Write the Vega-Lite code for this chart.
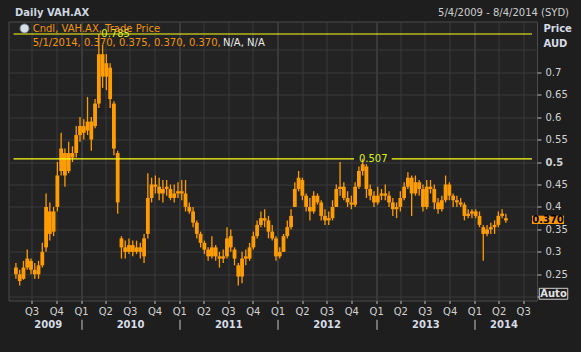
{
"$schema": "https://vega.github.io/schema/vega-lite/v6.json",
"width": 528.5, "height": 279,
"autosize": {"type": "none"},
"padding": {"left": 8.5, "top": 21.5, "right": 44, "bottom": 51.5},
"background": "#1e1e1e",
"config": {"view": {"fill": "#232323", "stroke": "#4a4a4a", "strokeWidth": 1}, "font": "DejaVu Sans"},
"datasets": {
"px": [
{"d":"2009-05-04","o":0.265,"h":0.275,"l":0.24,"c":0.25},
{"d":"2009-05-18","o":0.25,"h":0.26,"l":0.225,"c":0.235},
{"d":"2009-06-01","o":0.24,"h":0.28,"l":0.238,"c":0.265},
{"d":"2009-06-15","o":0.265,"h":0.305,"l":0.26,"c":0.285},
{"d":"2009-06-29","o":0.28,"h":0.285,"l":0.25,"c":0.26},
{"d":"2009-07-13","o":0.26,"h":0.275,"l":0.24,"c":0.25},
{"d":"2009-07-27","o":0.25,"h":0.28,"l":0.24,"c":0.27},
{"d":"2009-08-10","o":0.27,"h":0.32,"l":0.265,"c":0.30},
{"d":"2009-08-24","o":0.31,"h":0.43,"l":0.30,"c":0.40},
{"d":"2009-09-07","o":0.39,"h":0.41,"l":0.325,"c":0.34},
{"d":"2009-09-21","o":0.345,"h":0.40,"l":0.335,"c":0.39},
{"d":"2009-10-05","o":0.40,"h":0.50,"l":0.39,"c":0.47},
{"d":"2009-10-19","o":0.48,"h":0.565,"l":0.47,"c":0.53},
{"d":"2009-11-02","o":0.52,"h":0.53,"l":0.445,"c":0.47},
{"d":"2009-11-16","o":0.48,"h":0.545,"l":0.475,"c":0.52},
{"d":"2009-11-30","o":0.51,"h":0.535,"l":0.50,"c":0.52},
{"d":"2009-12-14","o":0.52,"h":0.58,"l":0.51,"c":0.56},
{"d":"2009-12-28","o":0.56,"h":0.60,"l":0.545,"c":0.58},
{"d":"2010-01-11","o":0.58,"h":0.595,"l":0.55,"c":0.565},
{"d":"2010-01-25","o":0.57,"h":0.645,"l":0.56,"c":0.59},
{"d":"2010-02-08","o":0.59,"h":0.60,"l":0.525,"c":0.55},
{"d":"2010-02-22","o":0.58,"h":0.64,"l":0.575,"c":0.63},
{"d":"2010-03-08","o":0.63,"h":0.785,"l":0.62,"c":0.74},
{"d":"2010-03-22","o":0.74,"h":0.76,"l":0.665,"c":0.69},
{"d":"2010-04-05","o":0.69,"h":0.74,"l":0.66,"c":0.72},
{"d":"2010-04-19","o":0.71,"h":0.72,"l":0.62,"c":0.64},
{"d":"2010-05-03","o":0.63,"h":0.635,"l":0.515,"c":0.53},
{"d":"2010-05-17","o":0.52,"h":0.525,"l":0.385,"c":0.41},
{"d":"2010-05-31","o":0.33,"h":0.335,"l":0.285,"c":0.31},
{"d":"2010-06-14","o":0.31,"h":0.325,"l":0.285,"c":0.30},
{"d":"2010-06-28","o":0.30,"h":0.33,"l":0.295,"c":0.315},
{"d":"2010-07-12","o":0.315,"h":0.325,"l":0.29,"c":0.30},
{"d":"2010-07-26","o":0.30,"h":0.325,"l":0.295,"c":0.31},
{"d":"2010-08-09","o":0.31,"h":0.32,"l":0.285,"c":0.30},
{"d":"2010-08-23","o":0.29,"h":0.34,"l":0.275,"c":0.33},
{"d":"2010-09-06","o":0.34,"h":0.475,"l":0.33,"c":0.42},
{"d":"2010-09-20","o":0.42,"h":0.465,"l":0.41,"c":0.45},
{"d":"2010-10-04","o":0.45,"h":0.47,"l":0.43,"c":0.445},
{"d":"2010-10-18","o":0.445,"h":0.465,"l":0.415,"c":0.43},
{"d":"2010-11-01","o":0.43,"h":0.46,"l":0.41,"c":0.44},
{"d":"2010-11-15","o":0.44,"h":0.46,"l":0.425,"c":0.445},
{"d":"2010-11-29","o":0.44,"h":0.45,"l":0.415,"c":0.42},
{"d":"2010-12-13","o":0.42,"h":0.45,"l":0.41,"c":0.43},
{"d":"2010-12-27","o":0.43,"h":0.455,"l":0.42,"c":0.435},
{"d":"2011-01-10","o":0.435,"h":0.46,"l":0.415,"c":0.43},
{"d":"2011-01-24","o":0.43,"h":0.46,"l":0.39,"c":0.40},
{"d":"2011-02-07","o":0.40,"h":0.41,"l":0.385,"c":0.39},
{"d":"2011-02-21","o":0.39,"h":0.40,"l":0.355,"c":0.365},
{"d":"2011-03-07","o":0.365,"h":0.37,"l":0.33,"c":0.34},
{"d":"2011-03-21","o":0.34,"h":0.345,"l":0.31,"c":0.32},
{"d":"2011-04-04","o":0.32,"h":0.325,"l":0.295,"c":0.305},
{"d":"2011-04-18","o":0.305,"h":0.31,"l":0.28,"c":0.29},
{"d":"2011-05-02","o":0.29,"h":0.335,"l":0.285,"c":0.31},
{"d":"2011-05-16","o":0.31,"h":0.315,"l":0.28,"c":0.29},
{"d":"2011-05-30","o":0.29,"h":0.30,"l":0.265,"c":0.285},
{"d":"2011-06-13","o":0.285,"h":0.305,"l":0.275,"c":0.29},
{"d":"2011-06-27","o":0.29,"h":0.355,"l":0.285,"c":0.33},
{"d":"2011-07-11","o":0.335,"h":0.35,"l":0.30,"c":0.31},
{"d":"2011-07-25","o":0.305,"h":0.31,"l":0.27,"c":0.285},
{"d":"2011-08-08","o":0.27,"h":0.275,"l":0.225,"c":0.245},
{"d":"2011-08-22","o":0.245,"h":0.30,"l":0.23,"c":0.285},
{"d":"2011-09-05","o":0.29,"h":0.305,"l":0.27,"c":0.285},
{"d":"2011-09-19","o":0.285,"h":0.32,"l":0.28,"c":0.31},
{"d":"2011-10-03","o":0.31,"h":0.345,"l":0.305,"c":0.335},
{"d":"2011-10-17","o":0.335,"h":0.37,"l":0.33,"c":0.36},
{"d":"2011-10-31","o":0.36,"h":0.39,"l":0.355,"c":0.375},
{"d":"2011-11-14","o":0.375,"h":0.395,"l":0.355,"c":0.37},
{"d":"2011-11-28","o":0.37,"h":0.38,"l":0.33,"c":0.345},
{"d":"2011-12-12","o":0.345,"h":0.36,"l":0.325,"c":0.33},
{"d":"2011-12-26","o":0.33,"h":0.335,"l":0.28,"c":0.29},
{"d":"2012-01-09","o":0.29,"h":0.31,"l":0.285,"c":0.30},
{"d":"2012-01-23","o":0.30,"h":0.34,"l":0.30,"c":0.335},
{"d":"2012-02-06","o":0.335,"h":0.37,"l":0.33,"c":0.355},
{"d":"2012-02-20","o":0.355,"h":0.395,"l":0.35,"c":0.38},
{"d":"2012-03-05","o":0.40,"h":0.455,"l":0.40,"c":0.44},
{"d":"2012-03-19","o":0.44,"h":0.48,"l":0.435,"c":0.465},
{"d":"2012-04-02","o":0.46,"h":0.465,"l":0.415,"c":0.425},
{"d":"2012-04-16","o":0.425,"h":0.43,"l":0.39,"c":0.40},
{"d":"2012-04-30","o":0.40,"h":0.42,"l":0.37,"c":0.39},
{"d":"2012-05-14","o":0.39,"h":0.435,"l":0.385,"c":0.425},
{"d":"2012-05-28","o":0.425,"h":0.43,"l":0.405,"c":0.41},
{"d":"2012-06-11","o":0.41,"h":0.415,"l":0.37,"c":0.38},
{"d":"2012-06-25","o":0.38,"h":0.395,"l":0.36,"c":0.37},
{"d":"2012-07-09","o":0.37,"h":0.39,"l":0.36,"c":0.375},
{"d":"2012-07-23","o":0.375,"h":0.415,"l":0.37,"c":0.40},
{"d":"2012-08-06","o":0.40,"h":0.45,"l":0.40,"c":0.44},
{"d":"2012-08-20","o":0.44,"h":0.50,"l":0.425,"c":0.445},
{"d":"2012-09-03","o":0.445,"h":0.455,"l":0.415,"c":0.42},
{"d":"2012-09-17","o":0.42,"h":0.435,"l":0.40,"c":0.41},
{"d":"2012-10-01","o":0.41,"h":0.425,"l":0.395,"c":0.405},
{"d":"2012-10-15","o":0.405,"h":0.455,"l":0.40,"c":0.445},
{"d":"2012-10-29","o":0.445,"h":0.49,"l":0.44,"c":0.48},
{"d":"2012-11-12","o":0.48,"h":0.507,"l":0.47,"c":0.495},
{"d":"2012-11-26","o":0.49,"h":0.495,"l":0.42,"c":0.44},
{"d":"2012-12-10","o":0.44,"h":0.45,"l":0.415,"c":0.425},
{"d":"2012-12-24","o":0.425,"h":0.435,"l":0.40,"c":0.41},
{"d":"2013-01-07","o":0.41,"h":0.445,"l":0.405,"c":0.425},
{"d":"2013-01-21","o":0.425,"h":0.44,"l":0.415,"c":0.43},
{"d":"2013-02-04","o":0.43,"h":0.45,"l":0.415,"c":0.425},
{"d":"2013-02-18","o":0.425,"h":0.435,"l":0.40,"c":0.41},
{"d":"2013-03-04","o":0.41,"h":0.42,"l":0.38,"c":0.395},
{"d":"2013-03-18","o":0.395,"h":0.41,"l":0.375,"c":0.40},
{"d":"2013-04-01","o":0.40,"h":0.435,"l":0.39,"c":0.42},
{"d":"2013-04-15","o":0.42,"h":0.455,"l":0.415,"c":0.445},
{"d":"2013-04-29","o":0.445,"h":0.477,"l":0.44,"c":0.465},
{"d":"2013-05-13","o":0.465,"h":0.47,"l":0.38,"c":0.43},
{"d":"2013-05-27","o":0.43,"h":0.47,"l":0.425,"c":0.455},
{"d":"2013-06-10","o":0.455,"h":0.46,"l":0.425,"c":0.44},
{"d":"2013-06-24","o":0.44,"h":0.45,"l":0.39,"c":0.40},
{"d":"2013-07-08","o":0.40,"h":0.46,"l":0.395,"c":0.445},
{"d":"2013-07-22","o":0.445,"h":0.46,"l":0.43,"c":0.44},
{"d":"2013-08-05","o":0.44,"h":0.45,"l":0.395,"c":0.41},
{"d":"2013-08-19","o":0.41,"h":0.42,"l":0.385,"c":0.395},
{"d":"2013-09-02","o":0.395,"h":0.425,"l":0.39,"c":0.415},
{"d":"2013-09-16","o":0.415,"h":0.47,"l":0.41,"c":0.45},
{"d":"2013-09-30","o":0.45,"h":0.455,"l":0.415,"c":0.425},
{"d":"2013-10-14","o":0.425,"h":0.43,"l":0.40,"c":0.415},
{"d":"2013-10-28","o":0.415,"h":0.425,"l":0.40,"c":0.41},
{"d":"2013-11-11","o":0.41,"h":0.42,"l":0.40,"c":0.405},
{"d":"2013-11-25","o":0.405,"h":0.41,"l":0.37,"c":0.38},
{"d":"2013-12-09","o":0.38,"h":0.395,"l":0.375,"c":0.385},
{"d":"2013-12-23","o":0.385,"h":0.395,"l":0.375,"c":0.39},
{"d":"2014-01-06","o":0.39,"h":0.395,"l":0.375,"c":0.38},
{"d":"2014-01-20","o":0.38,"h":0.39,"l":0.355,"c":0.36},
{"d":"2014-02-03","o":0.355,"h":0.36,"l":0.28,"c":0.34},
{"d":"2014-02-17","o":0.34,"h":0.36,"l":0.335,"c":0.35},
{"d":"2014-03-03","o":0.35,"h":0.365,"l":0.34,"c":0.355},
{"d":"2014-03-17","o":0.355,"h":0.37,"l":0.34,"c":0.36},
{"d":"2014-03-31","o":0.36,"h":0.39,"l":0.355,"c":0.38},
{"d":"2014-04-14","o":0.38,"h":0.395,"l":0.375,"c":0.385},
{"d":"2014-04-28","o":0.375,"h":0.385,"l":0.365,"c":0.37}
]
},
"layer": [
{
"data": {"name": "px"},
"mark": {"type": "rule", "color": "#ff9c00", "strokeWidth": 1.3},
"encoding": {
"x": {"field": "d", "type": "temporal",
"scale": {"domain": [{"year":2009,"month":4,"date":25},{"year":2014,"month":8,"date":3}], "nice": false},
"axis": {"orient": "bottom", "values": [{"year":2009,"month":7,"date":1},{"year":2009,"month":10,"date":1},{"year":2010,"month":1,"date":1},{"year":2010,"month":4,"date":1},{"year":2010,"month":7,"date":1},{"year":2010,"month":10,"date":1},{"year":2011,"month":1,"date":1},{"year":2011,"month":4,"date":1},{"year":2011,"month":7,"date":1},{"year":2011,"month":10,"date":1},{"year":2012,"month":1,"date":1},{"year":2012,"month":4,"date":1},{"year":2012,"month":7,"date":1},{"year":2012,"month":10,"date":1},{"year":2013,"month":1,"date":1},{"year":2013,"month":4,"date":1},{"year":2013,"month":7,"date":1},{"year":2013,"month":10,"date":1},{"year":2014,"month":1,"date":1},{"year":2014,"month":4,"date":1},{"year":2014,"month":7,"date":1}],
"labelExpr": "'Q' + quarter(datum.value)", "title": null, "grid": true, "gridColor": "#3a3a3a",
"gridWidth": {"condition": {"test": "month(datum.value) == 0", "value": 2}, "value": 1},
"domain": false, "ticks": true, "tickSize": 3, "tickColor": "#bdbdbd", "labelPadding": 3,
"labelColor": "#d2d2d2", "labelFontSize": 10, "labelFont": "DejaVu Sans", "labelAngle": 0,
"labelFlush": false, "labelOverlap": false, "labelBound": false}},
"y": {"field": "l", "type": "quantitative",
"scale": {"domain": [0.1917, 0.8128], "zero": false, "nice": false},
"axis": {"orient": "right", "values": [0.2,0.25,0.3,0.35,0.4,0.45,0.5,0.55,0.6,0.65,0.7,0.75], "format": ".2~f",
"labelExpr": "datum.value > 0.72 || datum.value < 0.22 ? '' : datum.label",
"grid": true, "gridColor": "#3a3a3a", "domain": false, "tickSize": 4, "tickColor": "#c0c0c0",
"tickOpacity": {"condition": {"test": "datum.value > 0.72", "value": 0}, "value": 1},
"labelPadding": 4, "labelColor": "#d2d2d2", "labelFontSize": 10, "labelFont": "DejaVu Sans",
"labelFontWeight": {"condition": {"test": "datum.value == 0.5", "value": "bold"}, "value": "normal"},
"labelBound": false, "labelOverlap": false,
"title": ["Price", "AUD"], "titleAngle": 0, "titleAlign": "left", "titleBaseline": "middle",
"titleX": 6, "titleY": 7, "titleFontSize": 10, "titleFontWeight": "bold", "titleColor": "#d6dce6",
"titleFont": "DejaVu Sans", "titleLineHeight": 14.5}},
"y2": {"field": "h"}
}
},
{
"data": {"name": "px"},
"mark": {"type": "bar", "color": "#ff9c00", "width": 3.8},
"encoding": {
"x": {"field": "d", "type": "temporal",
"scale": {"domain": [{"year":2009,"month":4,"date":25},{"year":2014,"month":8,"date":3}], "nice": false},
"axis": {"orient": "bottom", "values": [{"year":2009,"month":8,"date":30},{"year":2010,"month":7,"date":2},{"year":2011,"month":7,"date":2},{"year":2012,"month":7,"date":1},{"year":2013,"month":7,"date":3},{"year":2014,"month":4,"date":19}],
"format": "%Y", "title": null, "grid": false, "domain": false, "ticks": false, "tickSize": 0, "offset": 19,
"labelPadding": 0, "labelFontWeight": "bold", "labelColor": "#d6dce6", "labelFontSize": 10, "labelFont": "DejaVu Sans",
"labelFlush": false, "labelOverlap": false, "labelBound": false}},
"y": {"field": "o", "type": "quantitative", "scale": {"domain": [0.1917, 0.8128], "zero": false, "nice": false}, "axis": null},
"y2": {"field": "c"}
}
},
{
"data": {"values": [{"level":0.785,"from":"2009-04-25","to":"2014-08-03"},{"level":0.507,"from":"2009-04-25","to":"2012-10-11"},{"level":0.507,"from":"2013-02-28","to":"2014-08-03"}]},
"mark": {"type": "rule", "color": "#ffff1a", "strokeWidth": 1.2},
"encoding": {
"x": {"field": "from", "type": "temporal", "scale": {"domain": [{"year":2009,"month":4,"date":25},{"year":2014,"month":8,"date":3}], "nice": false}, "axis": null},
"x2": {"field": "to"},
"y": {"field": "level", "type": "quantitative", "scale": {"domain": [0.1917, 0.8128], "zero": false, "nice": false}, "axis": null}
}
},
{
"data": {"values": [{"level":0.785,"d":"2010-03-17"},{"level":0.507,"d":"2012-10-29"}]},
"mark": {"type": "text", "align": "left", "baseline": "middle", "color": "#d8f020", "fontSize": 10, "font": "DejaVu Sans"},
"encoding": {
"x": {"field": "d", "type": "temporal", "scale": {"domain": [{"year":2009,"month":4,"date":25},{"year":2014,"month":8,"date":3}], "nice": false}, "axis": null},
"y": {"field": "level", "type": "quantitative", "scale": {"domain": [0.1917, 0.8128], "zero": false, "nice": false}, "axis": null},
"text": {"field": "level", "type": "quantitative", "format": ".3f"}
}
},
{
"data": {"values": [{"d":"2014-08-03","lo":0.362,"hi":0.3805}]},
"mark": {"type": "bar", "color": "#ff9900", "width": 32, "xOffset": 16, "clip": false},
"encoding": {
"x": {"field": "d", "type": "temporal", "scale": {"domain": [{"year":2009,"month":4,"date":25},{"year":2014,"month":8,"date":3}], "nice": false},
"axis": {"orient": "bottom", "values": [{"year":2010,"month":1,"date":1},{"year":2011,"month":1,"date":1},{"year":2012,"month":1,"date":1},{"year":2013,"month":1,"date":1},{"year":2014,"month":1,"date":1}],
"labels": false, "domain": false, "grid": false, "ticks": true, "tickSize": 10, "tickColor": "#c8c8c8", "offset": 18.8, "title": null}},
"y": {"field": "lo", "type": "quantitative", "scale": {"domain": [0.1917, 0.8128], "zero": false, "nice": false}, "axis": null},
"y2": {"field": "hi"}
}
},
{
"data": {"values": [{"d":"2014-08-03","p":0.37}]},
"mark": {"type": "text", "align": "center", "baseline": "middle", "dx": 16, "color": "#000000", "fontWeight": "bold", "fontSize": 10, "font": "DejaVu Sans", "clip": false},
"encoding": {
"x": {"field": "d", "type": "temporal", "scale": {"domain": [{"year":2009,"month":4,"date":25},{"year":2014,"month":8,"date":3}], "nice": false}, "axis": null},
"y": {"field": "p", "type": "quantitative", "scale": {"domain": [0.1917, 0.8128], "zero": false, "nice": false}, "axis": null},
"text": {"field": "p", "type": "quantitative", "format": ".3f"}
}
},
{
"data": {"values": [{"d":"2014-08-03","lo":0.1945,"hi":0.2188}]},
"mark": {"type": "bar", "width": 28.5, "xOffset": 21.5, "fill": "#1e1e1e", "stroke": "#cfcfcf", "strokeWidth": 1, "clip": false},
"encoding": {
"x": {"field": "d", "type": "temporal", "scale": {"domain": [{"year":2009,"month":4,"date":25},{"year":2014,"month":8,"date":3}], "nice": false}, "axis": null},
"y": {"field": "lo", "type": "quantitative", "scale": {"domain": [0.1917, 0.8128], "zero": false, "nice": false}, "axis": null},
"y2": {"field": "hi"}
}
},
{
"data": {"values": [{"d":"2014-08-03","p":0.2066,"t":"Auto"}]},
"mark": {"type": "text", "align": "center", "baseline": "middle", "dx": 21.5, "color": "#e2e2e2", "fontWeight": "bold", "fontSize": 10, "font": "DejaVu Sans", "clip": false},
"encoding": {
"x": {"field": "d", "type": "temporal", "scale": {"domain": [{"year":2009,"month":4,"date":25},{"year":2014,"month":8,"date":3}], "nice": false}, "axis": null},
"y": {"field": "p", "type": "quantitative", "scale": {"domain": [0.1917, 0.8128], "zero": false, "nice": false}, "axis": null},
"text": {"field": "t", "type": "nominal"}
}
},
{
"data": {"values": [{"d":"2009-04-25","p":0.8128,"t":"Cndl, VAH.AX, Trade Price"}]},
"mark": {"type": "text", "align": "left", "baseline": "middle", "dx": 19.2, "dy": 7.8, "color": "#f29410", "fontSize": 10, "font": "DejaVu Sans"},
"encoding": {
"x": {"field": "d", "type": "temporal", "scale": {"domain": [{"year":2009,"month":4,"date":25},{"year":2014,"month":8,"date":3}], "nice": false}, "axis": null},
"y": {"field": "p", "type": "quantitative", "scale": {"domain": [0.1917, 0.8128], "zero": false, "nice": false}, "axis": null},
"text": {"field": "t", "type": "nominal"}
}
},
{
"data": {"values": [{"d":"2009-04-25","p":0.8128,"t":"5/1/2014, 0.370, 0.375, 0.370, 0.370,"}]},
"mark": {"type": "text", "align": "left", "baseline": "middle", "dx": 19.2, "dy": 21.5, "color": "#f29410", "fontSize": 10, "font": "DejaVu Sans"},
"encoding": {
"x": {"field": "d", "type": "temporal", "scale": {"domain": [{"year":2009,"month":4,"date":25},{"year":2014,"month":8,"date":3}], "nice": false}, "axis": null},
"y": {"field": "p", "type": "quantitative", "scale": {"domain": [0.1917, 0.8128], "zero": false, "nice": false}, "axis": null},
"text": {"field": "t", "type": "nominal"}
}
},
{
"data": {"values": [{"d":"2009-04-25","p":0.8128,"t":"N/A, N/A"}]},
"mark": {"type": "text", "align": "left", "baseline": "middle", "dx": 209.5, "dy": 21.5, "color": "#ececec", "fontSize": 10, "font": "DejaVu Sans"},
"encoding": {
"x": {"field": "d", "type": "temporal", "scale": {"domain": [{"year":2009,"month":4,"date":25},{"year":2014,"month":8,"date":3}], "nice": false}, "axis": null},
"y": {"field": "p", "type": "quantitative", "scale": {"domain": [0.1917, 0.8128], "zero": false, "nice": false}, "axis": null},
"text": {"field": "t", "type": "nominal"}
}
},
{
"data": {"values": [{"d":"2014-08-03","p":0.8128,"t":"5/4/2009 - 8/4/2014 (SYD)"}]},
"mark": {"type": "text", "align": "right", "baseline": "middle", "dx": 37, "dy": -8.5, "color": "#cdcdcd", "fontSize": 10, "font": "DejaVu Sans", "clip": false},
"encoding": {
"x": {"field": "d", "type": "temporal", "scale": {"domain": [{"year":2009,"month":4,"date":25},{"year":2014,"month":8,"date":3}], "nice": false}, "axis": null},
"y": {"field": "p", "type": "quantitative", "scale": {"domain": [0.1917, 0.8128], "zero": false, "nice": false}, "axis": null},
"text": {"field": "t", "type": "nominal"}
}
},
{
"data": {"values": [{"d":"2009-04-25","p":0.8128,"t":"Daily VAH.AX"}]},
"mark": {"type": "text", "align": "left", "baseline": "middle", "dx": 1.5, "dy": -8.5, "color": "#cfd6e0", "fontWeight": "bold", "fontSize": 10, "font": "DejaVu Sans", "clip": false},
"encoding": {
"x": {"field": "d", "type": "temporal", "scale": {"domain": [{"year":2009,"month":4,"date":25},{"year":2014,"month":8,"date":3}], "nice": false}, "axis": null},
"y": {"field": "p", "type": "quantitative", "scale": {"domain": [0.1917, 0.8128], "zero": false, "nice": false}, "axis": null},
"text": {"field": "t", "type": "nominal"}
}
},
{
"data": {"values": [{"d":"2009-04-25","p":0.8128}]},
"mark": {"type": "point", "shape": "circle", "filled": true, "size": 80, "xOffset": 11, "yOffset": 7, "fill": "#d8dee6", "stroke": "#7a8898", "strokeWidth": 1, "opacity": 1},
"encoding": {
"x": {"field": "d", "type": "temporal", "scale": {"domain": [{"year":2009,"month":4,"date":25},{"year":2014,"month":8,"date":3}], "nice": false}, "axis": null},
"y": {"field": "p", "type": "quantitative", "scale": {"domain": [0.1917, 0.8128], "zero": false, "nice": false}, "axis": null}
}
}
],
"resolve": {"axis": {"x": "independent", "y": "independent"}}
}
